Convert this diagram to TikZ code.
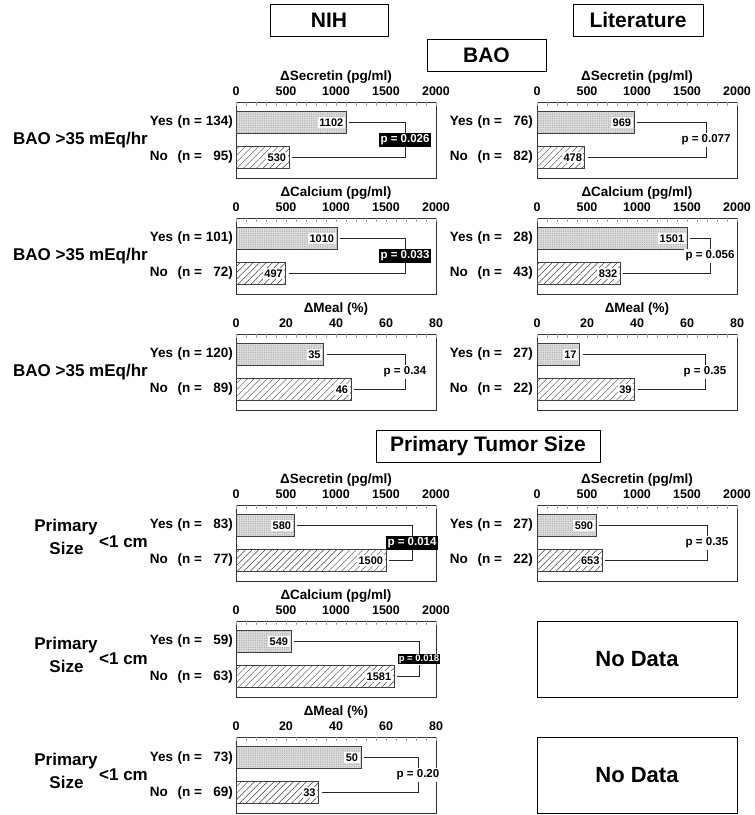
\documentclass[tikz,border=0pt]{standalone}
\usepackage{fontspec}
\setmainfont{Liberation Sans}
\usepackage{tikz}
\usetikzlibrary{patterns.meta}

\newcommand{\grp}[2]{\makebox[2.05em][l]{#1}(n =\makebox[1.95em][r]{#2})}
\newcommand{\fs}[1]{\bfseries\fontsize{#1}{#1}\selectfont}

\tikzset{
  hdr/.style={draw, line width=0.8pt, minimum height=32pt, inner sep=0pt, font=\fs{21}},
  side/.style={inner sep=0pt, font=\fs{17}},
  grp/.style={anchor=east, inner sep=0pt, font=\fs{13.5}},
  axtitle/.style={inner sep=0pt, font=\fs{13.5}},
  ticklab/.style={inner sep=0pt, font=\fs{12.5}},
  frame/.style={draw=black!80, line width=0.9pt},
  minor/.style={draw=black!35, line width=0.4pt},
  bar/.style={draw=black!75, line width=0.8pt, minimum height=22pt, inner sep=0pt, outer sep=0pt, anchor=west},
  yesbar/.style={bar, preaction={fill=black!13}, pattern={Dots[distance=1.8pt,radius=0.4pt]}, pattern color=black!45},
  nobar/.style={bar, preaction={fill=white}, pattern={Lines[angle=45,distance=4.6pt,line width=0.45pt]}, pattern color=black!75},
  val/.style={anchor=east, xshift=-1.2pt, fill=white, inner sep=1.5pt, font=\fs{11}},
  pbox/.style={fill=black, text=white, inner sep=1.5pt, font=\fs{11.5}},
  ptext/.style={fill=white, inner sep=1.5pt, font=\fs{11.5}},
  link/.style={draw=black!85, line width=0.7pt},
  nodata/.style={draw, line width=0.8pt, minimum width=200pt, minimum height=76pt, font=\fs{22}}
}

\begin{document}
\begin{tikzpicture}[x=1pt,y=-1pt]
\useasboundingbox (0,0) rectangle (755,815);

\draw (329,20)   node (nih) [hdr, minimum width=118pt] {NIH};
\draw (638,20)   node (lit) [hdr, minimum width=130pt] {Literature};
\draw (486.5,55) node (bao) [hdr, minimum width=119pt] {BAO};
\draw (488,446)  node (pts) [hdr, minimum width=224pt] {Primary Tumor Size};

\draw[frame] (236,102) rectangle (436,178);
\foreach \i in {0,...,20} \draw[minor] (236+10*\i,102) -- ++(0,4);
\draw (336,77) node (n1ti) [axtitle] {ΔSecretin (pg/ml)};
\foreach \v [count=\k from 0] in {0,500,1000,1500,2000} \draw (236+50*\k,91) node (n1t\k) [ticklab] {\v};
\draw (236,122.5) node (n1y) [yesbar, minimum width=110.2pt] {};
\draw (236,157.5) node (n1n) [nobar, minimum width=53pt] {};
\draw (n1y.east) node (n1yv) [val] {1102};
\draw (n1n.east) node (n1nv) [val] {530};
\draw (233,122.5) node (n1yg) [grp] {\grp{Yes}{134}};
\draw (233,157.5) node (n1ng) [grp] {\grp{No}{95}};
\draw (405,140) node (n1p) [pbox] {p = 0.026};
\draw[link] ([xshift=3pt]n1y.east) -| (n1p);
\draw[link] ([xshift=3pt]n1n.east) -| (n1p);
\draw (80.5,140) node (n1s) [side] {BAO >35 mEq/hr};

\draw[frame] (236,218) rectangle (436,294);
\foreach \i in {0,...,20} \draw[minor] (236+10*\i,218) -- ++(0,4);
\draw (336,193) node (n2ti) [axtitle] {ΔCalcium (pg/ml)};
\foreach \v [count=\k from 0] in {0,500,1000,1500,2000} \draw (236+50*\k,207) node (n2t\k) [ticklab] {\v};
\draw (236,238.5) node (n2y) [yesbar, minimum width=101pt] {};
\draw (236,273.5) node (n2n) [nobar, minimum width=49.7pt] {};
\draw (n2y.east) node (n2yv) [val] {1010};
\draw (n2n.east) node (n2nv) [val] {497};
\draw (233,238.5) node (n2yg) [grp] {\grp{Yes}{101}};
\draw (233,273.5) node (n2ng) [grp] {\grp{No}{72}};
\draw (405,256) node (n2p) [pbox] {p = 0.033};
\draw[link] ([xshift=3pt]n2y.east) -| (n2p);
\draw[link] ([xshift=3pt]n2n.east) -| (n2p);
\draw (80.5,256) node (n2s) [side] {BAO >35 mEq/hr};

\draw[frame] (236,334) rectangle (436,410);
\foreach \i in {0,...,20} \draw[minor] (236+10*\i,334) -- ++(0,4);
\draw (336,309) node (n3ti) [axtitle] {ΔMeal (\%)};
\foreach \v [count=\k from 0] in {0,20,40,60,80} \draw (236+50*\k,323) node (n3t\k) [ticklab] {\v};
\draw (236,354.5) node (n3y) [yesbar, minimum width=87.5pt] {};
\draw (236,389.5) node (n3n) [nobar, minimum width=115pt] {};
\draw (n3y.east) node (n3yv) [val] {35};
\draw (n3n.east) node (n3nv) [val] {46};
\draw (233,354.5) node (n3yg) [grp] {\grp{Yes}{120}};
\draw (233,389.5) node (n3ng) [grp] {\grp{No}{89}};
\draw (405,372) node (n3p) [ptext] {p = 0.34};
\draw[link] ([xshift=3pt]n3y.east) -| (n3p);
\draw[link] ([xshift=3pt]n3n.east) -| (n3p);
\draw (80.5,372) node (n3s) [side] {BAO >35 mEq/hr};

\draw[frame] (537,102) rectangle (737,178);
\foreach \i in {0,...,20} \draw[minor] (537+10*\i,102) -- ++(0,4);
\draw (637,77) node (l1ti) [axtitle] {ΔSecretin (pg/ml)};
\foreach \v [count=\k from 0] in {0,500,1000,1500,2000} \draw (537+50*\k,91) node (l1t\k) [ticklab] {\v};
\draw (537,122.5) node (l1y) [yesbar, minimum width=96.9pt] {};
\draw (537,157.5) node (l1n) [nobar, minimum width=47.8pt] {};
\draw (l1y.east) node (l1yv) [val] {969};
\draw (l1n.east) node (l1nv) [val] {478};
\draw (533,122.5) node (l1yg) [grp] {\grp{Yes}{76}};
\draw (533,157.5) node (l1ng) [grp] {\grp{No}{82}};
\draw (706,140) node (l1p) [ptext] {p = 0.077};
\draw[link] ([xshift=3pt]l1y.east) -| (l1p);
\draw[link] ([xshift=3pt]l1n.east) -| (l1p);

\draw[frame] (537,218) rectangle (737,294);
\foreach \i in {0,...,20} \draw[minor] (537+10*\i,218) -- ++(0,4);
\draw (637,193) node (l2ti) [axtitle] {ΔCalcium (pg/ml)};
\foreach \v [count=\k from 0] in {0,500,1000,1500,2000} \draw (537+50*\k,207) node (l2t\k) [ticklab] {\v};
\draw (537,238.5) node (l2y) [yesbar, minimum width=150.1pt] {};
\draw (537,273.5) node (l2n) [nobar, minimum width=83.2pt] {};
\draw (l2y.east) node (l2yv) [val] {1501};
\draw (l2n.east) node (l2nv) [val] {832};
\draw (533,238.5) node (l2yg) [grp] {\grp{Yes}{28}};
\draw (533,273.5) node (l2ng) [grp] {\grp{No}{43}};
\draw (710,256) node (l2p) [ptext] {p = 0.056};
\draw[link] ([xshift=3pt]l2y.east) -| (l2p);
\draw[link] ([xshift=3pt]l2n.east) -| (l2p);

\draw[frame] (537,334) rectangle (737,410);
\foreach \i in {0,...,20} \draw[minor] (537+10*\i,334) -- ++(0,4);
\draw (637,309) node (l3ti) [axtitle] {ΔMeal (\%)};
\foreach \v [count=\k from 0] in {0,20,40,60,80} \draw (537+50*\k,323) node (l3t\k) [ticklab] {\v};
\draw (537,354.5) node (l3y) [yesbar, minimum width=42.5pt] {};
\draw (537,389.5) node (l3n) [nobar, minimum width=97.5pt] {};
\draw (l3y.east) node (l3yv) [val] {17};
\draw (l3n.east) node (l3nv) [val] {39};
\draw (533,354.5) node (l3yg) [grp] {\grp{Yes}{27}};
\draw (533,389.5) node (l3ng) [grp] {\grp{No}{22}};
\draw (705,372) node (l3p) [ptext] {p = 0.35};
\draw[link] ([xshift=3pt]l3y.east) -| (l3p);
\draw[link] ([xshift=3pt]l3n.east) -| (l3p);

\draw[frame] (236,505) rectangle (436,581);
\foreach \i in {0,...,20} \draw[minor] (236+10*\i,505) -- ++(0,4);
\draw (336,480) node (n4ti) [axtitle] {ΔSecretin (pg/ml)};
\foreach \v [count=\k from 0] in {0,500,1000,1500,2000} \draw (236+50*\k,494) node (n4t\k) [ticklab] {\v};
\draw (236,525.5) node (n4y) [yesbar, minimum width=58pt] {};
\draw (236,560.5) node (n4n) [nobar, minimum width=150pt] {};
\draw (n4y.east) node (n4yv) [val] {580};
\draw (n4n.east) node (n4nv) [val] {1500};
\draw (233,525.5) node (n4yg) [grp] {\grp{Yes}{83}};
\draw (233,560.5) node (n4ng) [grp] {\grp{No}{77}};
\draw (412,543) node (n4p) [pbox] {p = 0.014};
\draw[link] ([xshift=3pt]n4y.east) -| (n4p);
\draw[link] ([xshift=3pt]n4n.east) -| (n4p);
\draw (66,527)    node (n4a) [side] {Primary};
\draw (66.5,548)  node (n4b) [side] {Size};
\draw (123.5,542) node (n4c) [side] {<1 cm};

\draw[frame] (537,505) rectangle (737,581);
\foreach \i in {0,...,20} \draw[minor] (537+10*\i,505) -- ++(0,4);
\draw (637,480) node (l4ti) [axtitle] {ΔSecretin (pg/ml)};
\foreach \v [count=\k from 0] in {0,500,1000,1500,2000} \draw (537+50*\k,494) node (l4t\k) [ticklab] {\v};
\draw (537,525.5) node (l4y) [yesbar, minimum width=59pt] {};
\draw (537,560.5) node (l4n) [nobar, minimum width=65.3pt] {};
\draw (l4y.east) node (l4yv) [val] {590};
\draw (l4n.east) node (l4nv) [val] {653};
\draw (533,525.5) node (l4yg) [grp] {\grp{Yes}{27}};
\draw (533,560.5) node (l4ng) [grp] {\grp{No}{22}};
\draw (707,543) node (l4p) [ptext] {p = 0.35};
\draw[link] ([xshift=3pt]l4y.east) -| (l4p);
\draw[link] ([xshift=3pt]l4n.east) -| (l4p);

\draw[frame] (236,621) rectangle (436,697);
\foreach \i in {0,...,20} \draw[minor] (236+10*\i,621) -- ++(0,4);
\draw (336,596) node (n5ti) [axtitle] {ΔCalcium (pg/ml)};
\foreach \v [count=\k from 0] in {0,500,1000,1500,2000} \draw (236+50*\k,610) node (n5t\k) [ticklab] {\v};
\draw (236,641.5) node (n5y) [yesbar, minimum width=54.9pt] {};
\draw (236,676.5) node (n5n) [nobar, minimum width=158.1pt] {};
\draw (n5y.east) node (n5yv) [val] {549};
\draw (n5n.east) node (n5nv) [val] {1581};
\draw (233,641.5) node (n5yg) [grp] {\grp{Yes}{59}};
\draw (233,676.5) node (n5ng) [grp] {\grp{No}{63}};
\draw (419,659) node (n5p) [pbox, inner sep=1pt, font=\fs{9.5}] {p = 0.018};
\draw[link] ([xshift=3pt]n5y.east) -| (n5p);
\draw[link] ([xshift=3pt]n5n.east) -| (n5p);
\draw (66,645)    node (n5a) [side] {Primary};
\draw (66.5,666)  node (n5b) [side] {Size};
\draw (123.5,659) node (n5c) [side] {<1 cm};

\draw (637,659) node (l5) [nodata] {No Data};

\draw[frame] (236,737) rectangle (436,813);
\foreach \i in {0,...,20} \draw[minor] (236+10*\i,737) -- ++(0,4);
\draw (336,712) node (n6ti) [axtitle] {ΔMeal (\%)};
\foreach \v [count=\k from 0] in {0,20,40,60,80} \draw (236+50*\k,726) node (n6t\k) [ticklab] {\v};
\draw (236,757.5) node (n6y) [yesbar, minimum width=125pt] {};
\draw (236,792.5) node (n6n) [nobar, minimum width=82.5pt] {};
\draw (n6y.east) node (n6yv) [val] {50};
\draw (n6n.east) node (n6nv) [val] {33};
\draw (233,757.5) node (n6yg) [grp] {\grp{Yes}{73}};
\draw (233,792.5) node (n6ng) [grp] {\grp{No}{69}};
\draw (418,775) node (n6p) [ptext] {p = 0.20};
\draw[link] ([xshift=3pt]n6y.east) -| (n6p);
\draw[link] ([xshift=3pt]n6n.east) -| (n6p);
\draw (66,761)    node (n6a) [side] {Primary};
\draw (66.5,782)  node (n6b) [side] {Size};
\draw (123.5,775) node (n6c) [side] {<1 cm};

\draw (637,775) node (l6) [nodata] {No Data};
\end{tikzpicture}
\end{document}
